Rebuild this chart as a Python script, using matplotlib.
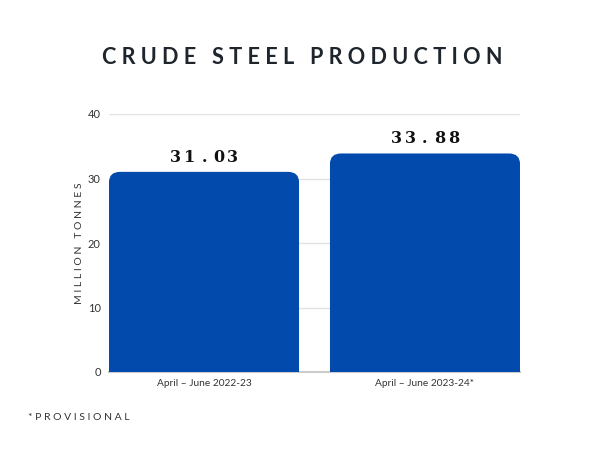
import matplotlib.pyplot as plt
from matplotlib.patches import PathPatch
from matplotlib.path import Path

periods = ['April – June 2022-23', 'April – June 2023-24*']
production = [31.03, 33.88]
yticks = [0, 10, 20, 30, 40]

bar_color = '#034aad'
width = 0.86


def spaced(s, gap=' '):
    return gap.join(s)


def rounded_bar(ax, x, h, w, rx, ry):
    # bar with rounded top corners, in data units
    l, r = x - w / 2, x + w / 2
    verts = [(l, 0), (l, h - ry), (l, h), (l + rx, h),
             (r - rx, h), (r, h), (r, h - ry), (r, 0), (l, 0)]
    codes = [Path.MOVETO, Path.LINETO, Path.CURVE3, Path.CURVE3,
             Path.LINETO, Path.CURVE3, Path.CURVE3, Path.LINETO, Path.CLOSEPOLY]
    ax.add_patch(PathPatch(Path(verts, codes), facecolor=bar_color,
                           edgecolor='none', zorder=3))


fig = plt.figure(figsize=(6.05, 4.53), dpi=100)
ax = fig.add_axes([109 / 605, 1 - 372 / 453, 411 / 605, 258 / 453])

pitch = 10.3  # points between characters of value labels
for i, v in enumerate(production):
    rounded_bar(ax, i, v, width, 0.05, 1.6)
    label = f'{v:.2f}'
    n = len(label)
    for k, ch in enumerate(label):
        ax.annotate(ch, (i, v + 1.55), xytext=((k - (n - 1) / 2) * pitch, 0),
                    textcoords='offset points', ha='center', va='baseline',
                    family='DejaVu Serif', fontweight='heavy', fontsize=11.5,
                    color='#111111')

ax.set_xlim(-width / 2, 1 + width / 2)
ax.set_ylim(0, 40)
ax.set_yticks(yticks)
ax.set_xticks(range(len(periods)))
ax.set_xticklabels(periods)
ax.grid(axis='y', color='#e3e3e3', linewidth=1, zorder=0)
ax.set_axisbelow(True)
for s in ['top', 'right', 'left']:
    ax.spines[s].set_visible(False)
ax.spines['bottom'].set_color('#cccccc')
ax.spines['bottom'].set_linewidth(1.5)
ax.tick_params(length=0, labelsize=8, labelcolor='#333333', pad=6)
ax.tick_params(axis='x', labelsize=7.3, pad=5)
for lab in ax.get_xticklabels() + ax.get_yticklabels():
    lab.set_family('Lato')

ax.set_ylabel(spaced('MILLION TONNES'), family='Lato', fontsize=7.5,
              color='#333333', labelpad=3)

fig.text(0.5, 1 - 58 / 453, spaced('CRUDE STEEL PRODUCTION'),
         ha='center', va='center', family='Lato', fontweight='bold',
         fontsize=15.6, color='#1e252d')
fig.text(28 / 605, 1 - 418 / 453, spaced('*PROVISIONAL'), ha='left',
         va='center', family='Lato', fontsize=7.5, color='#333333')

fig.savefig('out.png', dpi=100)
